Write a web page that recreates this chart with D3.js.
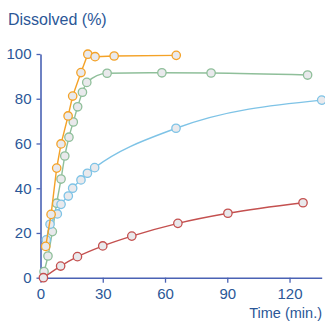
<!DOCTYPE html>
<html>
<head>
<meta charset="utf-8">
<script src="https://cdn.jsdelivr.net/npm/d3@7"></script>
<style>
  body { margin:0; background:#fff; }
  text { font-family: "Liberation Sans", Arial, sans-serif; fill:#2b5797; }
</style>
</head>
<body>
<div id="chart"></div>
<script>
// dissolution profiles, time in minutes vs % dissolved
var orangeT = [2.5, 5.1, 7.8, 9.9, 13.3, 15.5, 19.5, 22.8, 26.3, 35.5, 65.4];
var orangeY = [14, 28.3, 49, 59.8, 72.3, 81.2, 91.7, 99.9, 98.8, 99.1, 99.4];

var greenT = [1.7, 3.6, 5.7, 7.8, 9.9, 11.7, 13.7, 15.8, 17.9, 20.2, 22.3, 32.1, 58.5, 82.2, 128.7];
var greenY = [2.7, 9.7, 20.6, 33.3, 44.1, 54.4, 62.8, 69.6, 76.4, 82.9, 87.3, 91.4, 91.6, 91.5, 90.6];

var blueT = [2.8, 4.6, 8.1, 9.9, 13.4, 15.5, 19.5, 22.6, 26.1, 65.3, 135.5];
var blueY = [16.9, 23.9, 28.5, 32.8, 36.5, 40, 43.7, 46.7, 49.2, 66.8, 79.4];

var redT = [1.4, 9.7, 17.8, 30, 44, 66.2, 90.3, 126.5];
var redY = [0, 5.2, 9.4, 14.2, 18.6, 24.3, 28.8, 33.5];

var xTicks = [0, 30, 60, 90, 120];
var yTicks = [0, 20, 40, 60, 80, 100];

var W = 325, H = 324;
var svg = d3.select('#chart').append('svg')
  .attr('width', W).attr('height', H);

var x = d3.scaleLinear().domain([0, 135.5]).range([40.5, 321.7]);
var y = d3.scaleLinear().domain([0, 100]).range([277.7, 54]);

var axisCol = '#4a62b4';

// axes
var gx = svg.append('g').attr('transform', 'translate(0,277.7)')
  .call(d3.axisBottom(x).tickValues(xTicks).tickSize(5).tickPadding(6).tickSizeOuter(0));
var gy = svg.append('g').attr('transform', 'translate(40.5,0)')
  .call(d3.axisLeft(y).tickValues(yTicks).tickSize(4).tickPadding(5).tickSizeOuter(0));
[gx, gy].forEach(function(g){
  g.select('.domain').attr('stroke', axisCol).attr('stroke-width', 1.6);
  g.selectAll('.tick line').attr('stroke', axisCol).attr('stroke-width', 1.3);
  g.selectAll('.tick text').attr('fill', '#2b5797')
    .style('font-size', '15px').style('font-family', '"Liberation Sans", Arial, sans-serif');
});

svg.append('text').attr('x', 8).attr('y', 25).style('font-size', '16px').text('Dissolved (%)');
svg.append('text').attr('x', 322).attr('y', 318).attr('text-anchor', 'end')
  .style('font-size', '14.5px').text('Time (min.)');

var series = [
  {t: greenT, v: greenY, col: '#8fbf9a', curve: d3.curveMonotoneX},
  {t: blueT, v: blueY, col: '#7ec3e6', curve: d3.curveMonotoneX},
  {t: orangeT, v: orangeY, col: '#f4a227', curve: d3.curveLinear},
  {t: redT, v: redY, col: '#c4504f', curve: d3.curveMonotoneX}
];

series.forEach(function(s){
  var pts = s.t.map(function(t, i){ return [t, s.v[i]]; });
  var line = d3.line().x(function(d){ return x(d[0]); }).y(function(d){ return y(d[1]); }).curve(s.curve);
  svg.append('path').datum(pts)
    .attr('d', line).attr('fill', 'none').attr('stroke', s.col).attr('stroke-width', 1.4);
  svg.selectAll(null).data(pts).enter().append('circle')
    .attr('cx', function(d){ return x(d[0]); })
    .attr('cy', function(d){ return y(d[1]); })
    .attr('r', 4.2)
    .attr('fill', '#e9e9ec')
    .attr('stroke', s.col).attr('stroke-width', 1.3);
});
</script>
</body>
</html>
